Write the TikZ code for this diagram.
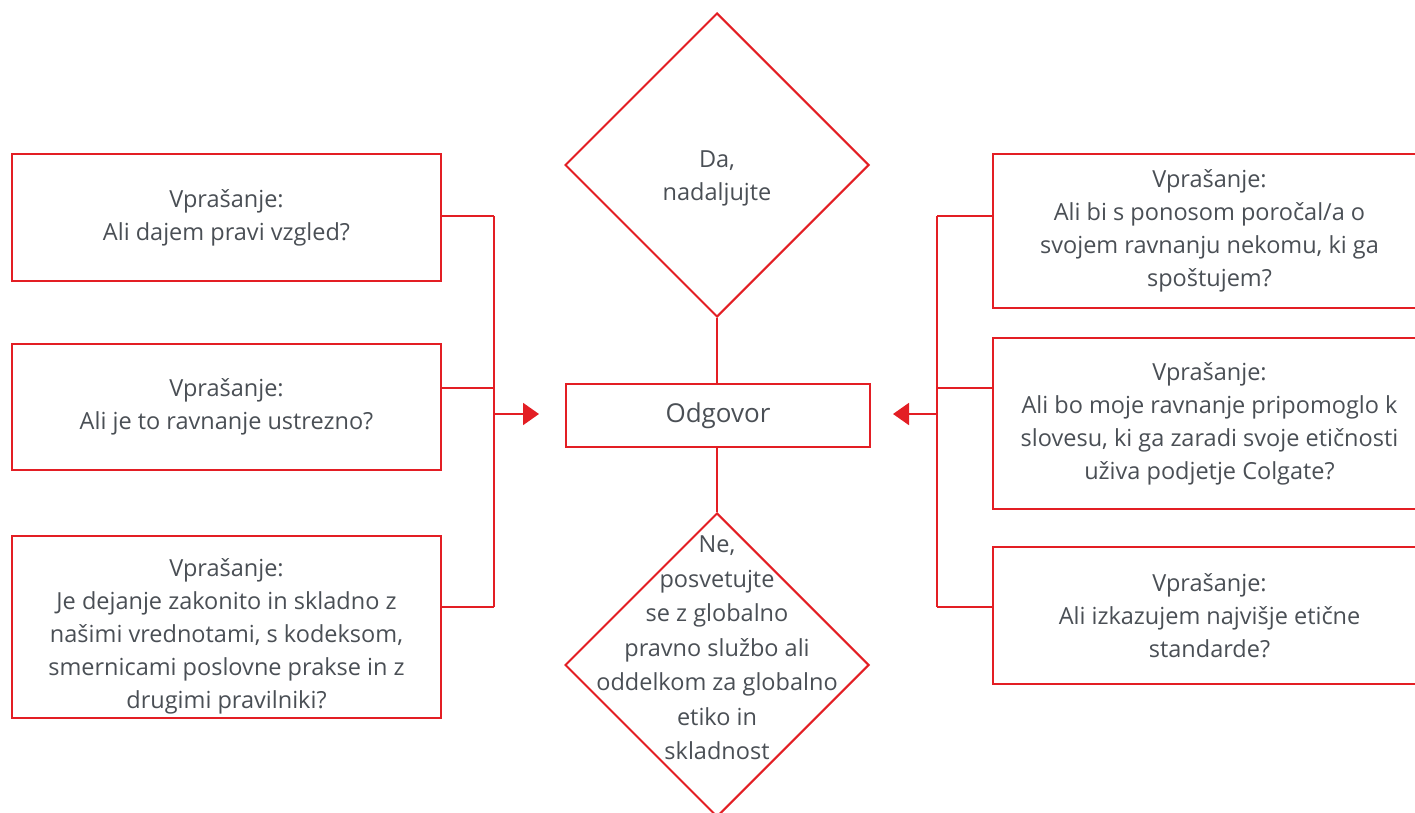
\documentclass[tikz,border=0pt]{standalone}
\usepackage{fontspec}
\setmainfont{Open Sans}
\usetikzlibrary{shapes.geometric,arrows.meta}
\definecolor{cred}{HTML}{E31E24}
\definecolor{ctext}{HTML}{4A4F55}
\tikzset{
  box/.style={draw=cred, line width=2pt, rectangle, inner sep=0pt, anchor=north west,
    align=center, text=ctext, font=\fontsize{23.5}{33}\selectfont},
  dia/.style={draw=cred, line width=2pt, diamond, inner sep=0pt, minimum width=304pt, minimum height=304pt},
  dtext/.style={align=center, text=ctext, font=\fontsize{23.5}{33}\selectfont},
  link/.style={draw=cred, line width=2pt},
  arr/.style={draw=cred, line width=2pt, -{Triangle[length=16pt,width=22pt]}}
}
\begin{document}
\begin{tikzpicture}[x=1pt,y=-1pt]
\useasboundingbox (0,0) rectangle (1415,813);
\clip (0,0) rectangle (1415,813);
% left boxes
\node[box, minimum width=429pt, minimum height=127pt] (l1) at (11,153) {Vprašanje:\\Ali dajem pravi vzgled?};
\node[box, minimum width=429pt, minimum height=126pt] (l2) at (11,343) {Vprašanje:\\Ali je to ravnanje ustrezno?};
\node[box, minimum width=429pt, minimum height=182pt] (l3) at (11,535) {};
\node[dtext] (l3tx) at ([yshift=-9pt]l3.center) {Vprašanje:\\Je dejanje zakonito in skladno z\\našimi vrednotami, s kodeksom,\\smernicami poslovne prakse in z\\drugimi pravilniki?};
% right boxes
\node[box, minimum width=433pt, minimum height=154pt] (r1) at (992,153) {Vprašanje:\\Ali bi s ponosom poročal/a o\\svojem ravnanju nekomu, ki ga\\spoštujem?};
\node[box, minimum width=433pt, minimum height=171pt] (r2) at (992,337) {Vprašanje:\\Ali bo moje ravnanje pripomoglo k\\slovesu, ki ga zaradi svoje etičnosti\\uživa podjetje Colgate?};
\node[box, minimum width=433pt, minimum height=137pt] (r3) at (992,546) {Vprašanje:\\Ali izkazujem najvišje etične\\standarde?};
% center
\node[box, minimum width=304pt, minimum height=63pt, font=\fontsize{26}{30}\selectfont] (odg) at (565,383) {Odgovor};
\node[dia] (da) at (717,165) {};
\node[dtext] (datx) at (717,178) {Da,\\nadaljujte};
\node[dia] (ne) at (717,665) {};
\node[dtext, font=\fontsize{23.5}{34.5}\selectfont] (netx) at (717,648) {Ne,\\posvetujte\\se z globalno\\pravno službo ali\\oddelkom za globalno\\etiko in\\skladnost};
% connectors center
\draw[link] (da.south) -- (odg.north -| da.south);
\draw[link] (odg.south -| ne.north) -- (ne.north);
% left junctions
\coordinate (lj1) at (494,216);
\coordinate (lj2) at (494,388);
\coordinate (lj3) at (494,607);
\coordinate (lja) at (494,414);
\coordinate (latip) at (539,414);
\draw[link] (l1.east |- lj1) -- (lj1);
\draw[link] (l2.east |- lj2) -- (lj2);
\draw[link] (l3.east |- lj3) -- (lj3);
\draw[link] (lj1) -- (lj3);
\draw[arr] (lja) -- (latip);
% right junctions
\coordinate (rj1) at (937,216);
\coordinate (rj2) at (937,388);
\coordinate (rj3) at (937,607);
\coordinate (rja) at (937,414);
\coordinate (ratip) at (893,414);
\draw[link] (r1.west |- rj1) -- (rj1);
\draw[link] (r2.west |- rj2) -- (rj2);
\draw[link] (r3.west |- rj3) -- (rj3);
\draw[link] (rj1) -- (rj3);
\draw[arr] (rja) -- (ratip);
\end{tikzpicture}
\end{document}
